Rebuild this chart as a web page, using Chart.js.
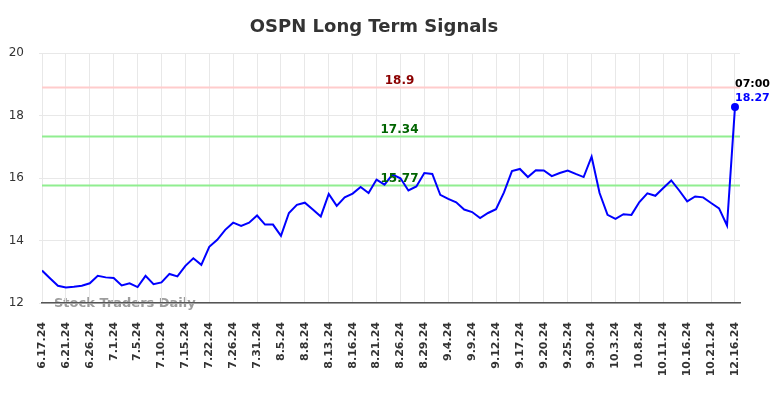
<!DOCTYPE html>
<html><head><meta charset="utf-8">
<script src="https://cdn.jsdelivr.net/npm/chart.js@4/dist/chart.umd.min.js"></script>
<style>html,body{margin:0;padding:0;background:#fff}#wrap{width:784px;height:398px}</style>
</head><body><div id="wrap"><canvas id="c" width="784" height="398"></canvas></div>
<script>
const dates=['6.17.24','6.18.24','6.20.24','6.21.24','6.24.24','6.25.24','6.26.24','6.27.24','6.28.24','7.1.24',
'7.2.24','7.3.24','7.5.24','7.8.24','7.9.24','7.10.24','7.11.24','7.12.24','7.15.24','7.16.24',
'7.18.24','7.22.24','7.23.24','7.25.24','7.26.24','7.29.24','7.30.24','7.31.24','8.1.24','8.2.24',
'8.5.24','8.6.24','8.7.24','8.8.24','8.9.24','8.12.24','8.13.24','8.14.24','8.15.24','8.16.24',
'8.19.24','8.20.24','8.21.24','8.22.24','8.23.24','8.26.24','8.27.24','8.28.24','8.29.24','8.30.24',
'9.3.24','9.4.24','9.5.24','9.6.24','9.9.24','9.10.24','9.11.24','9.12.24','9.13.24','9.16.24',
'9.17.24','9.18.24','9.19.24','9.20.24','9.23.24','9.24.24','9.25.24','9.26.24','9.27.24','9.30.24',
'10.1.24','10.2.24','10.3.24','10.4.24','10.7.24','10.8.24','10.9.24','10.10.24','10.11.24','10.14.24',
'10.15.24','10.16.24','10.17.24','10.18.24','10.21.24','10.22.24','10.23.24','12.16.24'];
const prices=[13.04,12.79,12.55,12.50,12.52,12.55,12.63,12.87,12.82,12.80,
12.56,12.63,12.51,12.87,12.60,12.66,12.93,12.85,13.19,13.43,
13.22,13.80,14.02,14.34,14.57,14.47,14.57,14.80,14.51,14.51,
14.15,14.88,15.14,15.21,14.99,14.77,15.49,15.11,15.38,15.50,
15.71,15.52,15.95,15.79,16.11,15.99,15.60,15.73,16.16,16.13,
15.46,15.33,15.22,14.99,14.91,14.72,14.88,15.00,15.54,16.22,
16.29,16.03,16.25,16.24,16.06,16.16,16.24,16.13,16.03,16.68,
15.52,14.82,14.69,14.84,14.82,15.23,15.51,15.43,15.68,15.92,
15.60,15.25,15.41,15.38,15.20,15.03,14.48,18.27];
const yTicks=[12,14,16,18,20];
const xTickStep=3;
const levels=[18.9,17.34,15.77];
const levelLineColors=['#ffcccc','#90ee90','#90ee90'];
const levelTextColors=['#8b0000','#006400','#006400'];
const lastTime='07:00';
const titleText='OSPN Long Term Signals';
const watermark='Stock Traders Daily';

const FONT='"DejaVu Sans", sans-serif';
const last=prices.length-1;

const overlay={
  id:'overlay',
  beforeDraw(chart){
    const ctx=chart.ctx;
    ctx.save();
    ctx.font='bold 13px '+FONT;
    ctx.fillStyle='rgba(140,140,140,0.85)';
    ctx.textAlign='left';ctx.textBaseline='alphabetic';
    ctx.fillText(watermark,54,306.5);
    ctx.restore();
  },
  beforeDatasetsDraw(chart){
    const {ctx,chartArea:a,scales:{y}}=chart;
    levels.forEach((v,i)=>{
      const py=Math.round(y.getPixelForValue(v))+0.5;
      ctx.save();
      ctx.strokeStyle=levelLineColors[i];ctx.lineWidth=2;
      ctx.beginPath();ctx.moveTo(a.left,py);ctx.lineTo(a.right,py);ctx.stroke();
      ctx.restore();
    });
  },
  afterDatasetsDraw(chart){
    const {ctx,scales:{x,y}}=chart;
    ctx.save();
    ctx.font='bold 12px '+FONT;
    ctx.textAlign='center';ctx.textBaseline='alphabetic';
    levels.forEach((v,i)=>{
      const py=y.getPixelForValue(v);
      ctx.fillStyle=levelTextColors[i];
      ctx.fillText(String(v),399.5,py-3.5);
    });
    const px=x.getPixelForValue(last), py=y.getPixelForValue(prices[last]);
    ctx.textAlign='left';
    ctx.font='bold 11px '+FONT;
    ctx.fillStyle='#000';
    ctx.fillText(lastTime,px,py-20);
    ctx.fillStyle='#0000ff';
    ctx.fillText(prices[last].toFixed(2),px,py-6);
    ctx.font='bold 18px '+FONT;
    ctx.fillStyle='#333';
    ctx.textAlign='center';
    ctx.fillText(titleText,374,32);
    ctx.restore();
  }
};

new Chart(document.getElementById('c'),{
  type:'line',
  data:{datasets:[{
    data:prices.map((v,i)=>({x:i,y:v})),
    borderColor:'#0000ff',backgroundColor:'#0000ff',borderWidth:2,tension:0,
    pointRadius:prices.map((v,i)=>i===last?4:0),
    pointBackgroundColor:'#0000ff',pointBorderWidth:0,fill:false
  }]},
  options:{
    responsive:false,animation:false,
    layout:{padding:{top:53,right:44,left:0,bottom:0}},
    plugins:{legend:{display:false},title:{display:false},tooltip:{enabled:false}},
    scales:{
      x:{type:'linear',min:0,max:87.63,
        afterBuildTicks:s=>{const t=[];for(let i=0;i<dates.length;i+=xTickStep)t.push({value:i});s.ticks=t;},
        afterFit:s=>{s.height=95;},
        grid:{color:'#e8e8e8',lineWidth:1,drawTicks:false},
        border:{display:true,color:'#555',width:1.5},
        ticks:{autoSkip:false,minRotation:90,maxRotation:90,padding:19,color:'#333',
          font:{family:FONT,size:11,weight:'bold'},
          callback:v=>dates[v]}
      },
      y:{min:12,max:20,
        afterBuildTicks:s=>{s.ticks=yTicks.map(v=>({value:v}));},
        afterFit:s=>{s.width=42;},
        grid:{color:'#e8e8e8',lineWidth:1,tickLength:3},
        border:{display:false},
        ticks:{padding:15,color:'#333',font:{family:FONT,size:12},callback:v=>String(v)}
      }
    }
  },
  plugins:[overlay]
});
</script></body></html>
